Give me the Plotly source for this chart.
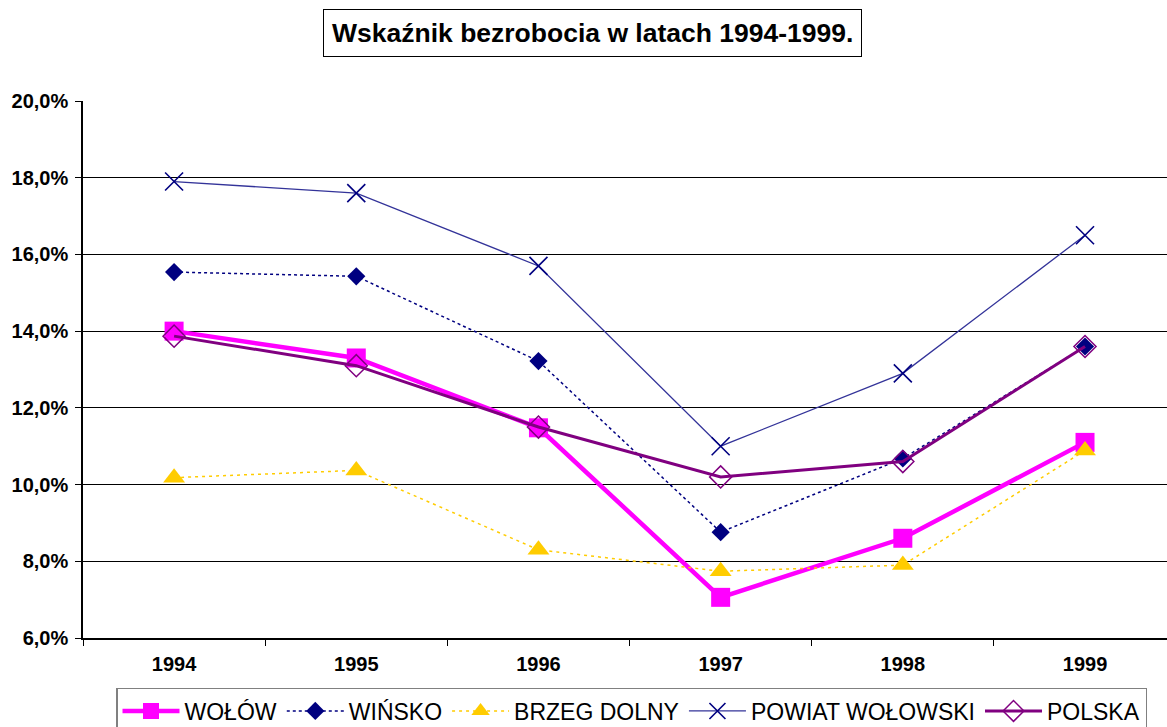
"""Unemployment rate 1994-1999 line chart."""

import plotly.graph_objects as go

years = ["1994", "1995", "1996", "1997", "1998", "1999"]

wolow = [0.140, 0.133, 0.1148, 0.0706, 0.086, 0.111]
winsko = [0.1554, 0.1543, 0.1322, 0.0876, 0.1068, 0.136]
brzeg_dolny = [0.1018, 0.1037, 0.083, 0.0774, 0.079, 0.1089]
powiat = [0.179, 0.176, 0.157, 0.110, 0.129, 0.165]
polska = [0.1387, 0.131, 0.115, 0.102, 0.106, 0.136]

y_ticks = [0.06, 0.08, 0.10, 0.12, 0.14, 0.16, 0.18, 0.20]
y_tick_labels = ["6,0%", "8,0%", "10,0%", "12,0%", "14,0%", "16,0%", "18,0%", "20,0%"]

FONT = "Arial, Liberation Sans, sans-serif"

fig = go.Figure()

fig.add_trace(go.Scatter(
    x=years, y=wolow, name="WOŁÓW", mode="lines+markers",
    line=dict(color="#FF00FF", width=4.5),
    marker=dict(symbol="square", size=19, color="#FF00FF"),
))
fig.add_trace(go.Scatter(
    x=years, y=winsko, name="WIŃSKO", mode="lines+markers",
    line=dict(color="#000080", width=1.5, dash="dot"),
    marker=dict(symbol="diamond", size=14, color="#000080"),
))
fig.add_trace(go.Scatter(
    x=years, y=brzeg_dolny, name="BRZEG DOLNY", mode="lines+markers",
    line=dict(color="#FFCC00", width=1.5, dash="3px,4px"),
    marker=dict(symbol="triangle-up", size=19, color="#FFCC00"),
))
fig.add_trace(go.Scatter(
    x=years, y=powiat, name="POWIAT WOŁOWSKI", mode="lines+markers",
    line=dict(color="#333399", width=1.3),
    marker=dict(symbol="x-thin-open", size=18, color="#000080",
                line=dict(width=1.6, color="#000080")),
))
fig.add_trace(go.Scatter(
    x=years, y=polska, name="POLSKA", mode="lines+markers",
    line=dict(color="#800080", width=3),
    marker=dict(symbol="diamond-open", size=17, color="#800080",
                line=dict(width=1.5, color="#800080")),
))

fig.update_xaxes(
    type="category",
    range=[-0.5, 5.45],
    showgrid=False,
    showline=True, linecolor="black", linewidth=1.5,
    ticks="outside", tickson="boundaries", ticklen=6, tickcolor="black",
    ticklabelstandoff=7,
    tickfont=dict(family=FONT, size=20, color="black", weight="bold"),
    zeroline=False,
    automargin=False,
)
fig.update_yaxes(
    range=[0.06, 0.20],
    tickvals=y_ticks,
    ticktext=y_tick_labels,
    showgrid=True, gridcolor="black", gridwidth=1,
    showline=True, linecolor="black", linewidth=1.5,
    ticks="outside", ticklen=6, tickcolor="black",
    ticklabelstandoff=3,
    tickfont=dict(family=FONT, size=20, color="black", weight="bold"),
    zeroline=False,
    automargin=False,
)

fig.update_layout(
    width=1167, height=727,
    margin=dict(l=83, r=0, t=101, b=89, autoexpand=False),
    plot_bgcolor="white", paper_bgcolor="white",
    font=dict(family=FONT, color="black"),
    showlegend=True,
    legend=dict(
        orientation="h",
        x=0.506, xanchor="center",
        y=-0.0931, yanchor="top",
        bordercolor="#808080", borderwidth=1.5,
        font=dict(family=FONT, size=23, color="black"),
        itemwidth=57,
        traceorder="normal",
    ),
    annotations=[dict(
        text="<b>Wskaźnik bezrobocia w latach 1994-1999.</b>",
        xref="paper", yref="paper",
        x=0.4696, y=1.0, yanchor="bottom",
        yshift=44,
        showarrow=False,
        font=dict(family=FONT, size=26.5, color="black"),
        bordercolor="black", borderwidth=1, borderpad=8,
        bgcolor="white",
    )],
)

# drop the default page margin so the figure sits at the window's corner
fig.write_html(
    "out.html",
    config={"displayModeBar": False},
    post_script="document.body.style.margin = '0';",
)
